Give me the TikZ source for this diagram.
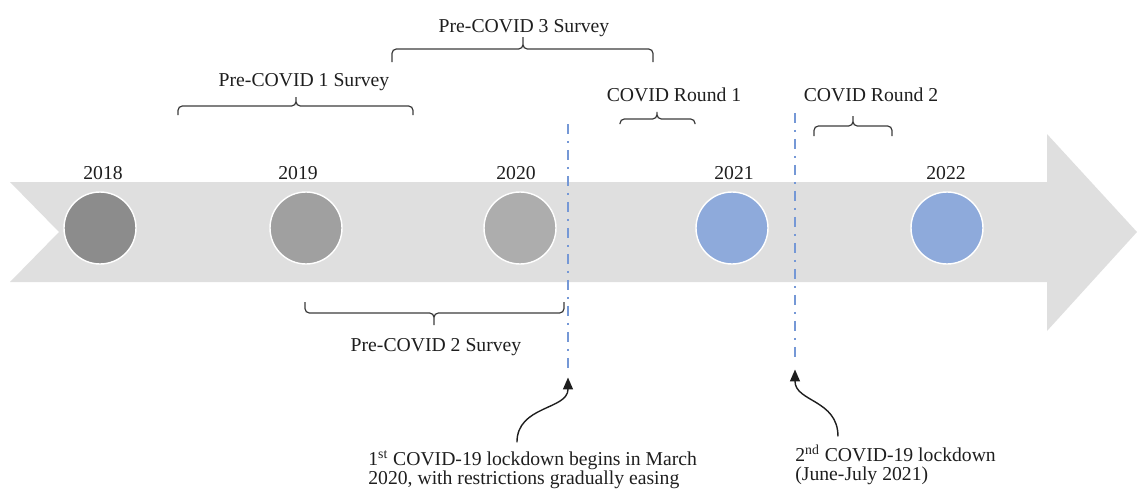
\documentclass[tikz,border=0pt]{standalone}
\usepackage{fontspec}
\setmainfont{Liberation Serif}
\usetikzlibrary{arrows.meta}

\definecolor{bandgray}{HTML}{DFDFDF}
\definecolor{dotA}{HTML}{8C8C8C}
\definecolor{dotB}{HTML}{A0A0A0}
\definecolor{dotC}{HTML}{ADADAD}
\definecolor{dotblue}{HTML}{8EAADB}
\definecolor{lockblue}{HTML}{7598D6}
\definecolor{txt}{HTML}{1E1E1E}
\definecolor{bracegray}{HTML}{3C3C3C}

\tikzset{
  year/.style={anchor=base, inner sep=0pt, text=txt},
  dot/.style={circle, draw=white, line width=0.8pt, minimum size=1.44cm, inner sep=0pt},
  survey/.style={draw=bracegray, line width=0.7pt, rounded corners=2.5pt},
  lockline/.style={draw=lockblue, line width=1.1pt, dash pattern=on 0.2cm off 0.14cm on 0.04cm off 0.14cm},
  pointer/.style={-{Triangle[length=0.24cm,width=0.2cm]}, line width=0.8pt, draw=txt, shorten >=0.15cm},
  note/.style={anchor=base west, align=left, inner sep=0pt, text=txt, font=\fontsize{11.2pt}{10.6pt}\selectfont}
}

\begin{document}
\begin{tikzpicture}[x=0.02cm, y=-0.02cm, font=\fontsize{11.2pt}{13pt}\selectfont]
    \useasboundingbox (0,0) rectangle (1137,490);

    % timeline arrow
    \fill[bandgray] (10,182) -- (1047,182) -- (1047,134) -- (1137,232) -- (1047,331)
        -- (1047,282) -- (10,282) -- (59,232) -- cycle;

    % years
    \node[dot, fill=dotA] (d18) at (100,228) {};
    \node[dot, fill=dotB] (d19) at (306,228) {};
    \node[dot, fill=dotC] (d20) at (520,228) {};
    \node[dot, fill=dotblue] (d21) at (732,228) {};
    \node[dot, fill=dotblue] (d22) at (947,228) {};

    \node[year] (y18) at (103,179) {2018};
    \node[year] (y19) at (298,179) {2019};
    \node[year] (y20) at (516,179) {2020};
    \node[year] (y21) at (734,179) {2021};
    \node[year] (y22) at (946,179) {2022};

    % surveys
    \draw[survey] (178,115) |- (296,106) -- (296,97) (413,115) |- (296,106) -- (296,97);
    \node[year] (pc1) at (304,86) {Pre-COVID 1 Survey};
    \draw[survey] (392,62) |- (523,49) -- (523,37) (653,62) |- (523,49) -- (523,37);
    \node[year] (pc3) at (524,32) {Pre-COVID 3 Survey};
    \draw[survey] (305,302) |- (434,313) -- (434,325) (564,302) |- (434,313) -- (434,325);
    \node[year] (pc2) at (436,351) {Pre-COVID 2 Survey};
    \draw[survey] (620,124) |- (657,119) -- (657,115) (695,124) |- (657,119) -- (657,115);
    \node[year] (cr1) at (674,101) {COVID Round 1};
    \draw[survey] (814,136) |- (853,126) -- (853,116) (892,136) |- (853,126) -- (853,116);
    \node[year] (cr2) at (871,101) {COVID Round 2};

    % lockdowns
    \coordinate (top1) at (568,124);
    \coordinate (end1) at (568,370);
    \coordinate (top2) at (795,113);
    \coordinate (end2) at (795,362);
    \draw[lockline] (top1) -- (end1);
    \draw[lockline] (top2) -- (end2);

    \node[note] (note1) at (368,484) {1\textsuperscript{st} COVID-19 lockdown begins in March\\2020, with restrictions gradually easing};
    \node[note] (note2) at (795,480) {2\textsuperscript{nd} COVID-19 lockdown\\(June-July 2021)};

    \draw[pointer] ([xshift=2.98cm,yshift=0.16cm]note1.north west) .. controls +(0,-37) and +(0,40) .. (end1);
    \draw[pointer] ([xshift=0.86cm,yshift=0.16cm]note2.north west) .. controls +(0,-37) and +(0,40) .. (end2);
\end{tikzpicture}
\end{document}
